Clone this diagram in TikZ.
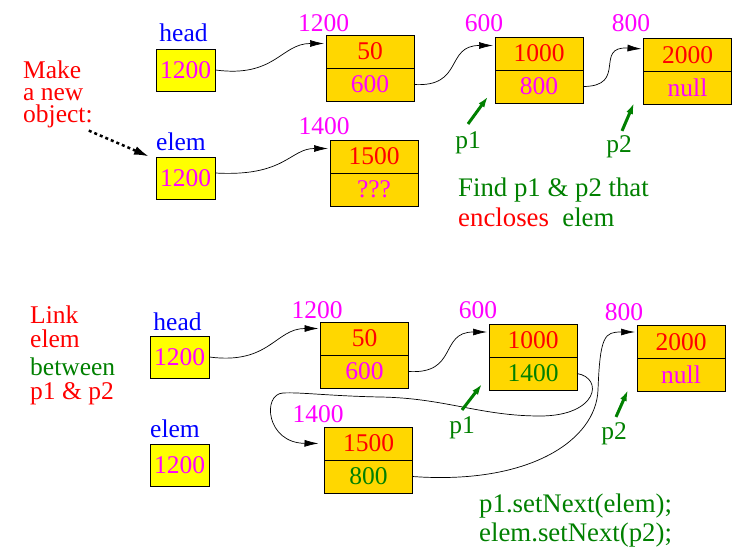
\documentclass[tikz,border=0pt]{standalone}
\usepackage{fontspec}
\setmainfont{Liberation Serif}
\usetikzlibrary{arrows.meta,positioning}
\definecolor{gold}{HTML}{FFD700}
\definecolor{ptryellow}{HTML}{FFFF00}
\definecolor{addrpink}{HTML}{FF00FF}
\definecolor{dgreen}{HTML}{008000}
\newcommand{\bigfont}{\rmfamily\fontsize{25.5}{24.5}\selectfont}

\begin{document}
\begin{tikzpicture}[
  x=1pt, y=-1pt,
  font=\bigfont,
  var/.style={text=blue, inner sep=0pt, anchor=base},
  addr/.style={text=addrpink, inner sep=0pt, anchor=base},
  ptrbox/.style={draw, fill=ptryellow, text=addrpink, minimum width=59pt, minimum height=42pt, inner sep=0pt, line width=0.8pt},
  cell/.style={draw, fill=gold, minimum width=88pt, minimum height=33pt, inner sep=0pt, outer sep=0pt, line width=0.8pt},
  link/.style={-{Latex[length=14pt,width=7pt]}, line width=0.7pt, shorten >=2pt},
  ptr/.style={-{Latex[length=11pt,width=7pt]}, line width=3pt, dgreen},
  note/.style={inner sep=0pt, anchor=base west},
  wide/.style={font=\rmfamily\fontsize{26.8}{26}\selectfont},
]
\useasboundingbox (0,0) rectangle (749,559);

% ---- top: the new object next to the list
\node[note, anchor=north west, align=left, text=red, font=\fontsize{25.5}{22.3}\selectfont] (mk) at (23,60.5) {Make\\a new\\object:};

\node[var] (headl) at (183.5,42) {head};
\node[ptrbox] (hb) at (185.5,70) {1200};
\node[var] (eleml) at (181,150) {elem};
\node[ptrbox] (eb) at (185.5,178) {1200};

% list cells, value on top and next below
\node[cell] (n1t) at (370,51.5) {\color{red}50};
\node[cell, below=0pt of n1t] (n1b) {\color{addrpink}600};
\node[cell] (n2t) at (539,53.5) {\color{red}1000};
\node[cell, below=0pt of n2t] (n2b) {\color{addrpink}800};
\node[cell] (n3t) at (687.5,55) {\color{red}2000};
\node[cell, below=0pt of n3t] (n3b) {\color{addrpink}null};
\node[cell] (n4t) at (374,156.5) {\color{red}1500};
\node[cell, below=0pt of n4t] (n4b) {\color{addrpink}???};

\node[addr] (a1) at (323.5,32) {1200};
\node[addr] (a2) at (484,32) {600};
\node[addr] (a3) at (631,32) {800};
\node[addr] (a4) at (324,135) {1400};

\draw[link] (hb.east) .. controls +(60,8) and +(-45,0) .. ([yshift=8pt]n1t.west);
\draw[link] (n1b.east) .. controls +(50,3) and +(-50,0) .. ([yshift=8pt]n2t.west);
\draw[link] (n2b.east) .. controls +(45,0) and +(-50,-3) .. ([yshift=6pt]n3t.west);
\draw[link] ([yshift=5pt]eb.east) .. controls +(70,4) and +(-40,0) .. ([yshift=8pt]n4t.west);
\draw[-{Latex[length=15pt,width=9pt]}, line width=2.5pt, dash pattern=on 3pt off 3pt] ([shift={(-4pt,-2pt)}]mk.south east) -- ([shift={(-7pt,-6pt)}]eleml.south west);

% p1 and p2
\node[note, anchor=base, text=dgreen] (p1a) at (468,148) {p1};
\node[note, anchor=base, text=dgreen] (p2a) at (619,153) {p2};
\draw[ptr] ([yshift=7pt]p1a.north) -- ([shift={(-7pt,6.5pt)}]n2b.south west);
\draw[ptr] ([shift={(3pt,5pt)}]p2a.north) -- ([shift={(-9.5pt,1.5pt)}]n3b.south west);

\node[note, wide, text=dgreen] (find) at (458,196.5) {Find p1 \& p2 that};
\node[note, wide] (encl) at (458,226) {{\color{red}encloses}\hspace{0.5em}{\color{dgreen}elem}};

% ---- bottom: elem linked in between p1 and p2
\node[note, anchor=north west, align=left, text=red] (lk) at (30,305.6) {Link\\elem\\[3pt]{\color{dgreen}between}\\p1 \& p2};

\node[var] (headl2) at (177.5,330) {head};
\node[ptrbox] (hb2) at (179.5,357) {1200};
\node[var] (eleml2) at (175,437) {elem};
\node[ptrbox] (eb2) at (179.5,465) {1200};

\node[cell] (m1t) at (364.5,338.5) {\color{red}50};
\node[cell, below=0pt of m1t] (m1b) {\color{addrpink}600};
\node[cell] (m2t) at (533,340.5) {\color{red}1000};
\node[cell, below=0pt of m2t] (m2b) {\color{dgreen}1400};
\node[cell] (m3t) at (681,342) {\color{red}2000};
\node[cell, below=0pt of m3t] (m3b) {\color{addrpink}null};
\node[cell] (m4t) at (368.5,443.5) {\color{red}1500};
\node[cell, below=0pt of m4t] (m4b) {\color{dgreen}800};

\node[addr] (b1) at (317,318) {1200};
\node[addr] (b2) at (478,318) {600};
\node[addr] (b3) at (624,320) {800};
\node[addr] (b4) at (318,422) {1400};

\draw[link] (hb2.east) .. controls +(60,8) and +(-45,0) .. ([yshift=10pt]m1t.west);
\draw[link] (m1b.east) .. controls +(50,3) and +(-50,0) .. ([yshift=8.5pt]m2t.west);
\draw[link, shorten >=6pt] (m2b.east) .. controls (604,378) and (598,416) .. (540,416)
  .. controls (480,416) and (445,398) .. (380,397)
  .. controls (330,396) and (300,392) .. (283,393)
  .. controls (262,394) and (266,443) .. (m4t.west);
\draw[link] (m4b.east) .. controls (530,485) and (596,440) .. (598,390)
  .. controls (600,335) and (605,332) .. ([yshift=10pt]m3t.west);

\node[note, anchor=base, text=dgreen] (p1b) at (462,433) {p1};
\node[note, anchor=base, text=dgreen] (p2b) at (614,439) {p2};
\draw[ptr] ([yshift=6pt]p1b.north) -- ([shift={(-7pt,6pt)}]m2b.south west);
\draw[ptr] ([shift={(2pt,5pt)}]p2b.north) -- ([shift={(-9pt,1.5pt)}]m3b.south west);

\node[note, wide, text=dgreen] (set1) at (479,512.5) {p1.setNext(elem);};
\node[note, wide, text=dgreen] (set2) at (479,541.5) {elem.setNext(p2);};

\end{tikzpicture}
\end{document}
